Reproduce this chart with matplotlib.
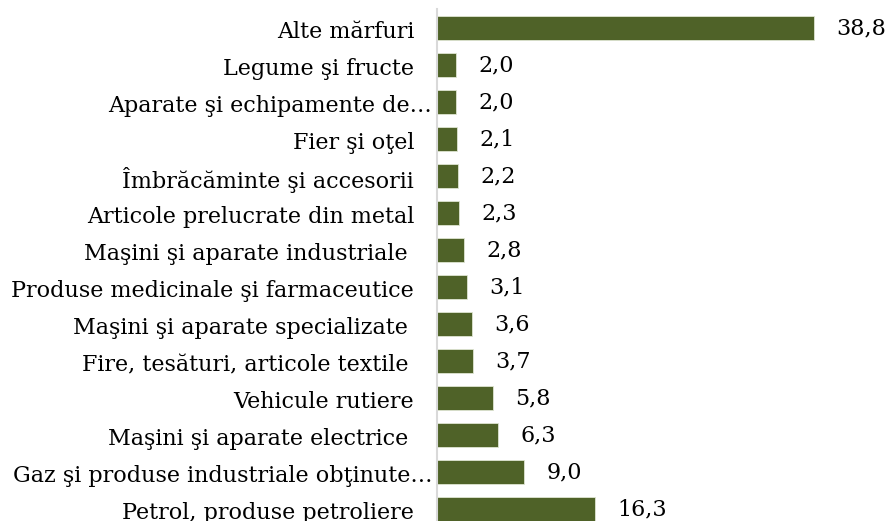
import matplotlib
matplotlib.use('Agg')
import matplotlib.pyplot as plt
import matplotlib.transforms as mtransforms
import numpy as np

categories = [
    'Alte mărfuri',
    'Legume şi fructe',
    'Aparate şi echipamente de…',
    'Fier şi oţel',
    'Îmbrăcăminte şi accesorii',
    'Articole prelucrate din metal',
    'Maşini şi aparate industriale',
    'Produse medicinale şi farmaceutice',
    'Maşini şi aparate specializate',
    'Fire, tesături, articole textile',
    'Vehicule rutiere',
    'Maşini şi aparate electrice',
    'Gaz şi produse industriale obţinute…',
    'Petrol, produse petroliere',
]
values = [38.8, 2.0, 2.0, 2.1, 2.2, 2.3, 2.8, 3.1, 3.6, 3.7, 5.8, 6.3, 9.0, 16.3]
# labels that carry a trailing blank in the source sheet
trailing_blank = {'Maşini şi aparate industriale', 'Maşini şi aparate specializate',
                  'Fire, tesături, articole textile', 'Maşini şi aparate electrice'}

plt.rcParams['font.family'] = ['DejaVu Serif']

W, H, DPI = 887, 521, 100
fig = plt.figure(figsize=(W / DPI, H / DPI), dpi=DPI)
px_per_unit = 9.72
xmax = 45.0
ax = fig.add_axes([437 / W, 0, xmax * px_per_unit / W, 1])

y = np.arange(len(categories))
bars = ax.barh(y, values, height=0.65, color='#4F6228', edgecolor='#dfe5d2', linewidth=0.6)
vlabels = ax.bar_label(bars, labels=[f'{v:.1f}'.replace('.', ',') for v in values],
                       padding=16, fontsize=16, color='#000000')
for t in vlabels:
    t.set_transform(t.get_transform() +
                    mtransforms.ScaledTranslation(0, -2 / DPI, fig.dpi_scale_trans))

ax.set_xlim(0, xmax)
ax.set_ylim((H - 28) / 37, -28 / 37)
ax.set_yticks(y)
ax.set_yticklabels(categories, fontsize=16)
ax.tick_params(axis='y', length=0, pad=16.5)
ax.set_xticks([])

for s in ['top', 'right', 'bottom']:
    ax.spines[s].set_visible(False)
ax.spines['left'].set_color('#d9d9d9')
ax.spines['left'].set_linewidth(1.5)
ax.spines['left'].set_bounds(-0.5, len(categories) - 0.5)

for lbl in ax.get_yticklabels():
    txt = lbl.get_text()
    dx = 0
    if txt.endswith('…'):
        dx = 18
    elif txt in trailing_blank:
        dx = -6
    # nudge the label baseline slightly down
    lbl.set_transform(lbl.get_transform() +
                      mtransforms.ScaledTranslation(dx / DPI, -2 / DPI, fig.dpi_scale_trans))

fig.savefig('out.png', dpi=DPI)
